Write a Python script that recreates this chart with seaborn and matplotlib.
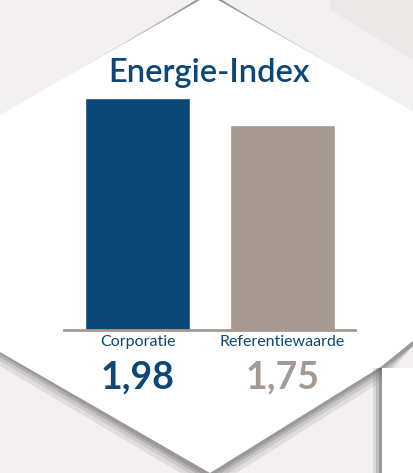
import matplotlib
matplotlib.use("Agg")
import matplotlib.pyplot as plt
from matplotlib.patches import Polygon
import seaborn as sns
import pandas as pd

categories = ["Corporatie", "Referentiewaarde"]
values = [1.98, 1.75]
value_labels = ["1,98", "1,75"]
title = "Energie-Index"

blue = "#0c4877"
taupe = "#a59991"
colors = [blue, taupe]

sns.set_style("white")
plt.rcParams["font.family"] = ["Lato", "DejaVu Sans"]

W, H = 414, 473
fig = plt.figure(figsize=(W / 100, H / 100), dpi=100)
fig.patch.set_facecolor("#f2f0f0")


def fpoly(pts, **kw):
    xy = [(x / W, 1 - y / H) for x, y in pts]
    fig.patches.append(Polygon(xy, closed=True, transform=fig.transFigure,
                               zorder=-10, **kw))


# background hexagons and soft shadows
fpoly([(330, 0), (414, 0), (414, 60), (330, 10)], facecolor="#ebe8e7", edgecolor="none")
for off, a in [(14, 0.15), (9, 0.2), (5, 0.3), (2, 0.4)]:
    fpoly([(196, 0), (222, 0), (414, 112 + off), (414, 345), (384, 366 + off),
           (214, 473 + off), (204, 473 + off), (0, 352 + off), (0, 115 + off)],
          facecolor="#7a7776", edgecolor="none", alpha=a)
fpoly([(200, 0), (218, 0), (414, 112), (414, 340), (382, 366), (210, 473),
       (0, 352), (0, 115)], facecolor="white", edgecolor="none")
for off, a in [(8, 0.15), (5, 0.2), (2, 0.35)]:
    fpoly([(381 - off, 368), (414, 368), (414, 473), (381 - off, 473)],
          facecolor="#555353", edgecolor="none", alpha=a)
fpoly([(382, 368), (414, 368), (414, 473), (382, 473)], facecolor="white", edgecolor="none")

df = pd.DataFrame({"cat": categories, "val": values})

ax_left, ax_right = 64, 355
base_y, top_y = 330, 330 - 2.0 * 117.2
ax = fig.add_axes([ax_left / W, 1 - base_y / H, (ax_right - ax_left) / W, (base_y - top_y) / H])
ax.patch.set_alpha(0)
sns.barplot(data=df, x="cat", y="val", hue="cat", palette=colors, width=0.724,
            saturation=1, legend=False, ax=ax)
ax.set_xlim(-0.507, 1.5)
ax.set_ylim(0, 2.0)
for s in ["top", "left", "right"]:
    ax.spines[s].set_visible(False)
ax.spines["bottom"].set_color(taupe)
ax.spines["bottom"].set_linewidth(2)
ax.set_yticks([])
ax.set_xlabel("")
ax.set_ylabel("")
ax.set_xticks([])

for i, (cat, lab) in enumerate(zip(categories, value_labels)):
    ax.text(i, -0.045, cat, ha="center", va="top", fontsize=11.5, color=blue)
    ax.text(i, -0.26, lab, ha="center", va="top", fontsize=27, fontweight="bold",
            color=colors[i])

fig.text(209 / W, 1 - 73 / H, title, ha="center", va="center", fontsize=23.5,
         fontweight="semibold", color=blue)

fig.savefig("out.png", dpi=100)
